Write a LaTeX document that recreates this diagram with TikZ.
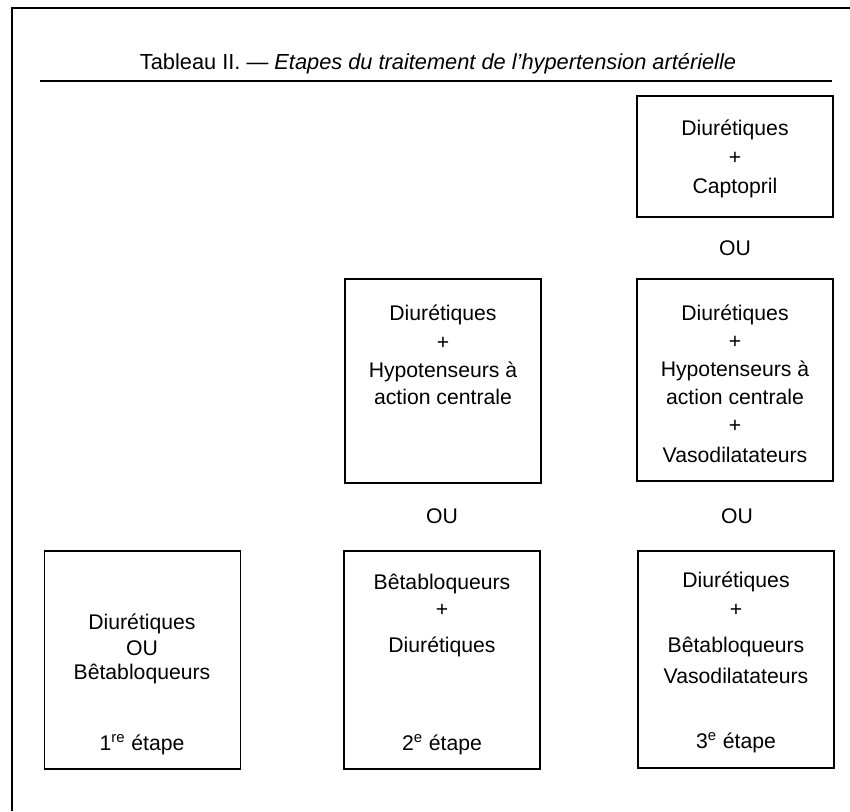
\documentclass[tikz,border=0pt]{standalone}
\usepackage{fontspec}
\setmainfont{Liberation Sans}
\begin{document}
\begin{tikzpicture}[x=0.5pt,y=-0.5pt,
	cadre/.style={draw,line width=0.8pt,minimum width=98pt,inner sep=0pt},
	txt/.style={font=\fontsize{10.6}{13}\selectfont,inner sep=0pt,text height=7.5pt,text depth=0.5pt}]

		\useasboundingbox (0,0) rectangle (850,811);
		\draw[line width=0.8pt] (850,8) -| (12,811);
		\node[txt,font=\fontsize{10.9}{13}\selectfont] (titre) at (438,62) {Tableau II. — \textit{Etapes du traitement de l'hypertension artérielle}};
		\draw[line width=0.8pt] (40,81) -- (832,81);

		\node[cadre,minimum height=60.5pt] (b1) at (735,156.5) {};
		\node[cadre,minimum height=102pt] (b2) at (443,381) {};
		\node[cadre,minimum height=101pt] (b3) at (735,380) {};
		\node[cadre,minimum height=109pt] (b4) at (142.5,660) {};
		\node[cadre,minimum height=109pt] (b5) at (442,660) {};
		\node[cadre,minimum height=108.5pt] (b6) at (736,659.5) {};

		\node[txt] (1) at (735,128) {Diurétiques};
		\node[txt] (2) at (735,157) {+};
		\node[txt] (3) at (735,186) {Captopril};
		\node[txt] (4) at (735,248) {OU};

		\node[txt] (5) at (443,313) {Diurétiques};
		\node[txt] (6) at (443,342) {+};
		\node[txt] (7) at (443,370) {Hypotenseurs à};
		\node[txt] (8) at (443,397) {action centrale};

		\node[txt] (9) at (735,313) {Diurétiques};
		\node[txt] (10) at (735,341) {+};
		\node[txt] (11) at (735,369) {Hypotenseurs à};
		\node[txt] (12) at (735,397) {action centrale};
		\node[txt] (13) at (735,425) {+};
		\node[txt] (14) at (735,455) {Vasodilatateurs};

		\node[txt] (15) at (442,516) {OU};
		\node[txt] (16) at (737,516) {OU};

		\node[txt] (17) at (142,622) {Diurétiques};
		\node[txt] (18) at (142,648) {OU};
		\node[txt] (19) at (142,672) {Bêtabloqueurs};
		\node[txt] (20) at (142,743) {1\textsuperscript{re} étape};

		\node[txt] (21) at (442,582) {Bêtabloqueurs};
		\node[txt] (22) at (442,609) {+};
		\node[txt] (23) at (442,645) {Diurétiques};
		\node[txt] (24) at (442,743) {2\textsuperscript{e} étape};

		\node[txt] (25) at (736,580) {Diurétiques};
		\node[txt] (26) at (736,609) {+};
		\node[txt] (27) at (736,645) {Bêtabloqueurs};
		\node[txt] (28) at (736,676) {Vasodilatateurs};
		\node[txt] (29) at (736,741) {3\textsuperscript{e} étape};
		\end{tikzpicture}
\end{document}
